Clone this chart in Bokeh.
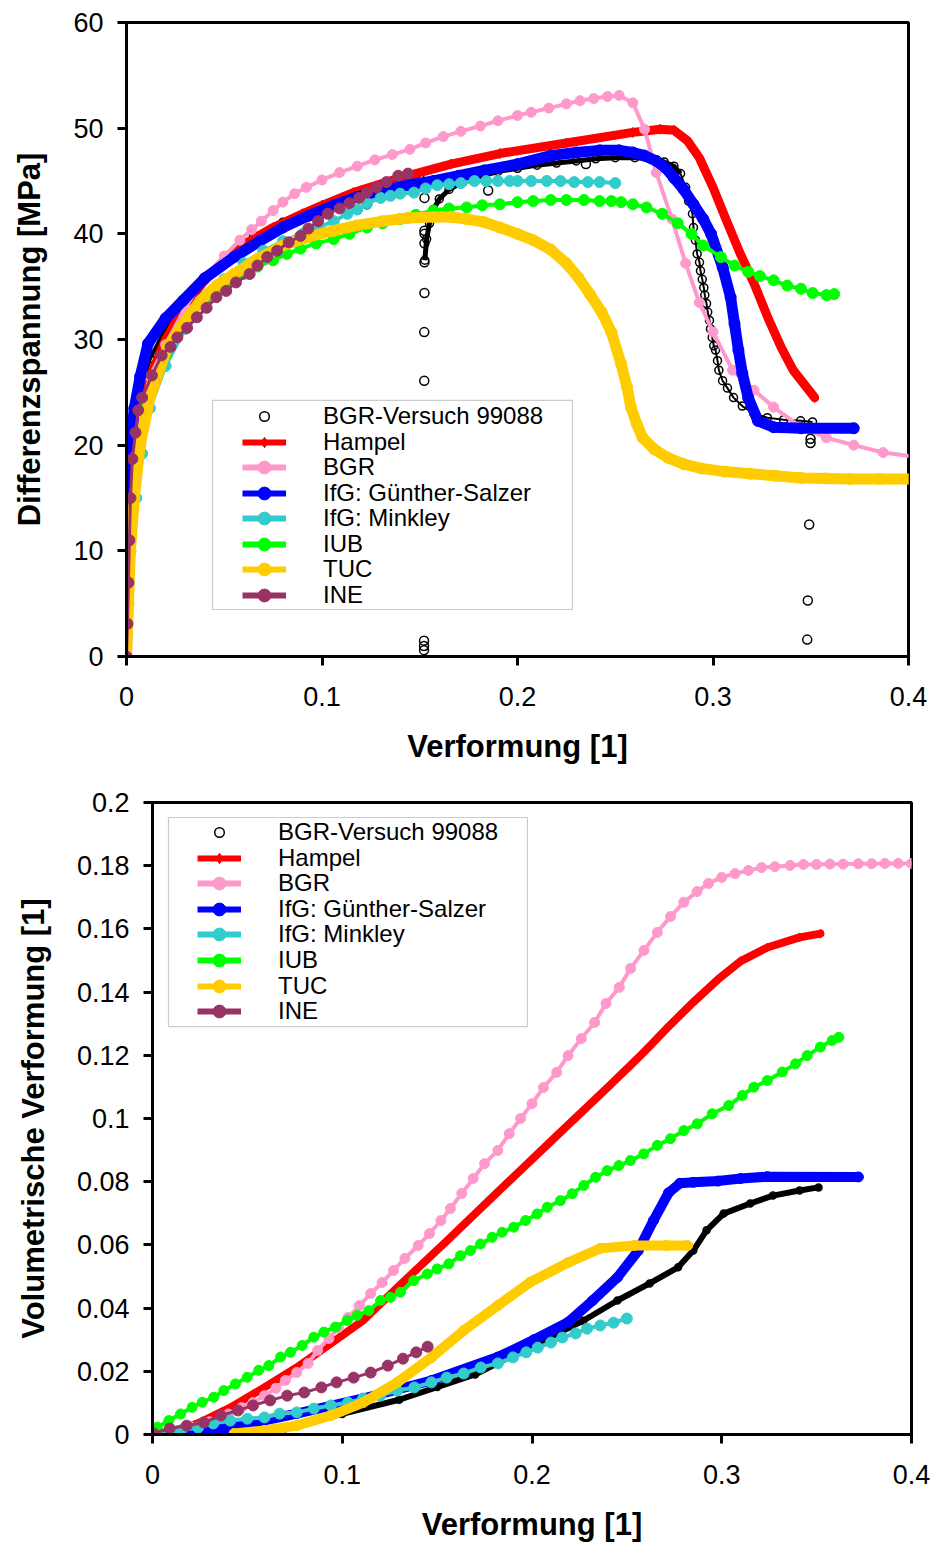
from bokeh.plotting import figure
from bokeh.models import Range1d, FixedTicker, Legend, LegendItem, BoxAnnotation
from bokeh.embed import file_html
from bokeh.resources import INLINE

FONT = "Liberation Sans"

# ---------------- Differenzspannung [MPa] over Verformung [1] ----------------
x_ticks = [0, 0.1, 0.2, 0.3, 0.4]
x_tick_labels = ["0", "0.1", "0.2", "0.3", "0.4"]
s_ticks = [0, 10, 20, 30, 40, 50, 60]
s_tick_labels = ["0", "10", "20", "30", "40", "50", "60"]
v_ticks = [0, 0.02, 0.04, 0.06, 0.08, 0.1, 0.12, 0.14, 0.16, 0.18, 0.2]
v_tick_labels = ["0", "0.02", "0.04", "0.06", "0.08", "0.1", "0.12", "0.14", "0.16", "0.18", "0.2"]

labels = ["BGR-Versuch 99088", "Hampel", "BGR", "IfG: Günther-Salzer",
          "IfG: Minkley", "IUB", "TUC", "INE"]

# BGR-Versuch 99088 (experiment): loading branch, reloading branch, single readings
exp_load_x = [0, 0.0005, 0.001, 0.002, 0.004, 0.007, 0.012, 0.02, 0.03, 0.04, 0.05,
              0.065, 0.08, 0.096, 0.11, 0.125, 0.14, 0.15]
exp_load_y = [0, 8, 13, 17.5, 21.5, 25, 28.2, 31, 33.6, 35.6, 37.3,
              39.8, 41.1, 42.3, 43.3, 44.2, 45.0, 45.4]
exp_reload_x = [0.1526, 0.1535, 0.155, 0.157, 0.16, 0.165, 0.172, 0.18, 0.19, 0.2, 0.21,
                0.22, 0.23, 0.24, 0.25, 0.26, 0.268, 0.275, 0.28, 0.2834, 0.286, 0.2875,
                0.2895, 0.29, 0.291, 0.2919, 0.2931, 0.2936, 0.2945, 0.2953, 0.2958,
                0.2967, 0.2973, 0.2982, 0.2987, 0.2996, 0.3004, 0.3013, 0.3023, 0.303,
                0.3049, 0.3074, 0.3105, 0.315, 0.3209, 0.3278, 0.3361, 0.3448, 0.3509]
exp_reload_y = [37.5, 39.5, 41.0, 42.3, 43.3, 44.2, 44.9, 45.4, 45.9, 46.2, 46.5,
                46.7, 46.9, 47.1, 47.2, 47.2, 47.1, 46.8, 46.4, 45.7, 44.4, 43.1,
                41.9, 40.6, 39.4, 38.1, 37.3, 36.5, 35.7, 34.9, 34.2,
                33.4, 32.6, 31.8, 31.0, 30.2, 29.4, 29.0, 28.0, 27.1,
                26.1, 25.4, 24.5, 23.7, 23.0, 22.6, 22.4, 22.3, 22.2]
exp_pts_x = [0.123, 0.185, 0.235, 0.1524, 0.1524, 0.1525, 0.1524, 0.1524, 0.1524, 0.1523,
             0.1523, 0.1522, 0.1522, 0.1522, 0.3499, 0.3499, 0.3492, 0.3485, 0.3482]
exp_pts_y = [42.8, 44.1, 46.6, 43.4, 40.3, 40.0, 39.1, 37.3, 34.4, 30.7,
             26.1, 1.5, 1.0, 0.6, 20.6, 20.2, 12.5, 5.3, 1.6]

hampel_x = [0, 0.001, 0.003, 0.006, 0.01, 0.02, 0.03, 0.04, 0.05, 0.06, 0.075, 0.09, 0.1,
            0.116, 0.14, 0.166, 0.191, 0.225, 0.259, 0.273, 0.28, 0.287, 0.293, 0.3, 0.307,
            0.314, 0.321, 0.328, 0.335, 0.341, 0.352]
hampel_y = [0, 10, 17, 22, 25.5, 30, 33.2, 35.6, 37.5, 39.0, 40.6, 41.9, 42.7,
            43.9, 45.3, 46.6, 47.6, 48.6, 49.6, 49.9, 49.8, 48.8, 47.2, 44.4, 41.2,
            38.1, 35.3, 32.1, 29.2, 27.1, 24.5]

bgr_x = [0, 0.001, 0.002, 0.004, 0.007, 0.012, 0.02, 0.03, 0.04, 0.05, 0.058, 0.064, 0.069,
         0.075, 0.08, 0.086, 0.092, 0.1, 0.109, 0.118, 0.127, 0.136, 0.145, 0.153, 0.162,
         0.171, 0.181, 0.19, 0.2, 0.207, 0.216, 0.225, 0.232, 0.239, 0.246, 0.252, 0.259,
         0.265, 0.271, 0.279, 0.286, 0.293, 0.3, 0.31, 0.321, 0.331, 0.345, 0.358, 0.372,
         0.387, 0.403]
bgr_y = [0, 8, 14, 19, 23, 26.5, 29.5, 33, 35.8, 37.9, 39.4, 40.4, 41.2,
         42.2, 43.0, 43.8, 44.4, 45.1, 45.8, 46.4, 47.0, 47.5, 48.0, 48.6, 49.2,
         49.7, 50.2, 50.7, 51.2, 51.5, 51.9, 52.3, 52.6, 52.8, 53.0, 53.1, 52.4,
         49.9, 45.8, 41.4, 37.2, 33.5, 30.7, 27.1, 25.2, 23.6, 21.7, 20.7, 20.0,
         19.3, 18.9]

gs_x = [0, 0.0005, 0.001, 0.002, 0.004, 0.007, 0.011, 0.02, 0.029, 0.04, 0.055, 0.068, 0.08,
        0.093, 0.106, 0.118, 0.131, 0.144, 0.157, 0.17, 0.183, 0.2, 0.217, 0.23, 0.242,
        0.252, 0.259, 0.265, 0.271, 0.276, 0.28, 0.285, 0.29, 0.295, 0.299, 0.305, 0.309,
        0.311, 0.313, 0.315, 0.318, 0.323, 0.331, 0.345, 0.372]
gs_y = [0, 10, 15, 20, 23.5, 26.5, 29.6, 32.0, 33.7, 35.8, 37.8, 39.3, 40.6,
        41.7, 42.7, 43.5, 44.1, 44.6, 45.0, 45.5, 46.0, 46.6, 47.4, 47.7, 47.9,
        47.9, 47.7, 47.4, 46.9, 46.2, 45.3, 44.2, 42.8, 41.4, 40.0, 36.8, 34.0,
        31.5, 29.0, 26.8, 24.5, 22.3, 21.7, 21.6, 21.6]

mk_x = [0, 0.002, 0.005, 0.008, 0.012, 0.02, 0.03, 0.04, 0.05, 0.06, 0.07, 0.08, 0.09,
        0.098, 0.106, 0.113, 0.118, 0.123, 0.13, 0.135, 0.14, 0.147, 0.153, 0.159, 0.165,
        0.171, 0.178, 0.184, 0.19, 0.196, 0.2, 0.207, 0.215, 0.222, 0.229, 0.236, 0.242, 0.25]
mk_y = [0, 10, 15, 19.2, 23.5, 27.5, 31, 33.7, 35.7, 37.2, 38.4, 39.3, 40.0,
        40.6, 41.2, 41.9, 42.3, 42.9, 43.4, 43.6, 43.8, 43.9, 44.3, 44.6, 44.7,
        44.8, 45.0, 45.0, 45.0, 45.0, 45.0, 45.0, 45.0, 45.0, 44.9, 44.9, 44.9, 44.8]

iub_x = [0, 0.002, 0.005, 0.01, 0.02, 0.03, 0.04, 0.05, 0.06, 0.067, 0.075, 0.082, 0.089,
         0.097, 0.106, 0.114, 0.123, 0.131, 0.14, 0.148, 0.157, 0.165, 0.174, 0.182, 0.191,
         0.2, 0.208, 0.217, 0.225, 0.234, 0.242, 0.248, 0.253, 0.259, 0.266, 0.274, 0.282,
         0.289, 0.295, 0.304, 0.311, 0.318, 0.324, 0.331, 0.338, 0.345, 0.351, 0.358, 0.362]
iub_y = [0, 12, 19, 24, 28.5, 31.5, 33.5, 35, 36.2, 36.9, 37.5, 38.1, 38.6,
         39.1, 39.5, 40.0, 40.6, 41.0, 41.4, 41.8, 42.2, 42.4, 42.5, 42.7, 42.8,
         43.0, 43.1, 43.2, 43.2, 43.2, 43.1, 43.1, 43.0, 42.8, 42.5, 41.9, 41.0,
         40.0, 38.9, 37.8, 37.0, 36.4, 36.0, 35.6, 35.1, 34.8, 34.4, 34.2, 34.3]

tuc_x = [0, 0.001, 0.002, 0.004, 0.007, 0.012, 0.021, 0.03, 0.038, 0.046, 0.055, 0.067, 0.08,
         0.093, 0.106, 0.118, 0.131, 0.144, 0.157, 0.166, 0.174, 0.183, 0.191, 0.2, 0.208,
         0.217, 0.225, 0.231, 0.237, 0.243, 0.248, 0.253, 0.256, 0.258, 0.261, 0.264, 0.27,
         0.277, 0.285, 0.294, 0.306, 0.319, 0.332, 0.345, 0.358, 0.37, 0.385, 0.401]
tuc_y = [0, 5, 10, 15, 20, 24.5, 29.3, 31.8, 33.7, 35.1, 36.2, 37.6, 38.9,
         39.7, 40.3, 40.8, 41.2, 41.5, 41.6, 41.6, 41.4, 41.1, 40.6, 40.0, 39.4,
         38.5, 37.2, 35.9, 34.3, 32.6, 30.7, 27.7, 25.5, 23.6, 22.0, 20.7, 19.6,
         18.8, 18.2, 17.8, 17.5, 17.3, 17.1, 16.9, 16.85, 16.8, 16.8, 16.8]

ine_x = [0, 0.0005, 0.001, 0.0015, 0.002, 0.003, 0.0046, 0.006, 0.008, 0.013, 0.018, 0.0225,
         0.026, 0.031, 0.036, 0.041, 0.046, 0.051, 0.056, 0.063, 0.067, 0.072, 0.077, 0.083,
         0.089, 0.093, 0.098, 0.103, 0.109, 0.114, 0.119, 0.123, 0.128, 0.133, 0.139, 0.144]
ine_y = [0, 3.1, 7.0, 11.0, 15.0, 18.7, 21.2, 23.3, 24.5, 26.6, 28.5, 29.3,
         30.2, 31.1, 32.1, 33.0, 34.0, 34.6, 35.4, 36.2, 37.0, 37.8, 38.4, 39.2,
         39.8, 40.5, 41.2, 41.9, 42.4, 42.9, 43.4, 43.9, 44.4, 44.9, 45.5, 45.7]

# ---------------- Volumetrische Verformung [1] over Verformung [1] ----------------
exp_v_x = [0.045, 0.07, 0.1, 0.13, 0.15, 0.17, 0.2, 0.227, 0.245, 0.262, 0.277, 0.285,
           0.292, 0.301, 0.315, 0.327, 0.341, 0.351]
exp_v_y = [0, 0.002, 0.0065, 0.011, 0.015, 0.019, 0.028, 0.036, 0.0424, 0.0478, 0.0529,
           0.0582, 0.0646, 0.0699, 0.0731, 0.0756, 0.0772, 0.0782]

hampel_v_x = [0, 0.006, 0.024, 0.041, 0.059, 0.076, 0.094, 0.111, 0.129, 0.155, 0.182, 0.21,
              0.241, 0.257, 0.271, 0.285, 0.298, 0.31, 0.324, 0.341, 0.352]
hampel_v_y = [0, 0.0003, 0.0035, 0.0085, 0.0149, 0.0212, 0.0288, 0.0361, 0.0465, 0.0612,
              0.0768, 0.0928, 0.1105, 0.1198, 0.1285, 0.1368, 0.1440, 0.1498, 0.1541, 0.1573,
              0.1585]

bgr_v_x = [0, 0.01, 0.02, 0.03, 0.04, 0.047, 0.053, 0.059, 0.065, 0.07, 0.076, 0.082, 0.087,
           0.093, 0.098, 0.103, 0.109, 0.115, 0.121, 0.127, 0.133, 0.14, 0.146, 0.152, 0.157,
           0.163, 0.169, 0.175, 0.182, 0.188, 0.194, 0.2, 0.206, 0.213, 0.219, 0.226, 0.233,
           0.239, 0.246, 0.252, 0.259, 0.266, 0.273, 0.28, 0.287, 0.293, 0.3, 0.307, 0.314,
           0.321, 0.328, 0.336, 0.343, 0.35, 0.357, 0.364, 0.372, 0.379, 0.386, 0.393, 0.4]
bgr_v_y = [0, 0.001, 0.0025, 0.004, 0.0065, 0.0085, 0.0101, 0.0123, 0.0146, 0.0171, 0.0196,
           0.0225, 0.0266, 0.0304, 0.0339, 0.037, 0.0408, 0.0446, 0.0481, 0.0519, 0.0557,
           0.0598, 0.0636, 0.0677, 0.0715, 0.0763, 0.081, 0.0857, 0.0899, 0.0952, 0.1,
           0.1047, 0.1098, 0.1146, 0.1199, 0.1253, 0.1304, 0.1364, 0.1415, 0.1475, 0.1532,
           0.1589, 0.1639, 0.1684, 0.1718, 0.1744, 0.1763, 0.1775, 0.1785, 0.1794, 0.1797,
           0.1801, 0.1804, 0.1804, 0.1805, 0.1805, 0.1806, 0.1806, 0.1807, 0.1807, 0.1807]

gs_v_x = [0.015, 0.041, 0.076, 0.111, 0.147, 0.182, 0.201, 0.219, 0.232, 0.245, 0.256,
          0.264, 0.272, 0.278, 0.285, 0.298, 0.31, 0.324, 0.372]
gs_v_y = [0, 0.0022, 0.0066, 0.0114, 0.0171, 0.0245, 0.0300, 0.0355, 0.0424, 0.0497,
          0.0582, 0.0677, 0.0765, 0.0795, 0.0798, 0.0802, 0.081, 0.0816, 0.0815]

mk_v_x = [0.004, 0.015, 0.024, 0.032, 0.041, 0.05, 0.059, 0.067, 0.076, 0.085, 0.094, 0.103,
          0.111, 0.12, 0.129, 0.138, 0.147, 0.155, 0.164, 0.173, 0.182, 0.19, 0.197, 0.203,
          0.21, 0.216, 0.223, 0.229, 0.236, 0.243, 0.25]
mk_v_y = [0.0003, 0.0013, 0.0022, 0.0035, 0.0044, 0.005, 0.0054, 0.0066, 0.007, 0.0082,
          0.0092, 0.0101, 0.0114, 0.0123, 0.0139, 0.0149, 0.0165, 0.018, 0.0193, 0.0212,
          0.0225, 0.0244, 0.026, 0.0275, 0.0291, 0.0307, 0.032, 0.0335, 0.0345, 0.0354,
          0.0367]

iub_v_x = [0, 0.0025, 0.0086, 0.0148, 0.0209, 0.0262, 0.0323, 0.0376, 0.0437, 0.0499, 0.056,
           0.0613, 0.0675, 0.0727, 0.0789, 0.085, 0.0903, 0.0964, 0.1026, 0.1079, 0.114,
           0.1202, 0.1254, 0.1307, 0.1377, 0.1448, 0.15, 0.1562, 0.1623, 0.1676, 0.1729,
           0.179, 0.1843, 0.1904, 0.1966, 0.2027, 0.208, 0.215, 0.2212, 0.2273, 0.2335,
           0.2396, 0.2458, 0.2519, 0.2589, 0.266, 0.273, 0.28, 0.2871, 0.295, 0.3037, 0.3108,
           0.3169, 0.324, 0.3319, 0.3389, 0.345, 0.352, 0.3582, 0.3617]
iub_v_y = [0, 0.0023, 0.0044, 0.0065, 0.0086, 0.0102, 0.0118, 0.0139, 0.016, 0.0181, 0.0203,
           0.0218, 0.0245, 0.026, 0.0282, 0.0308, 0.0324, 0.034, 0.0361, 0.0377, 0.0392,
           0.0424, 0.0434, 0.045, 0.0487, 0.0508, 0.0524, 0.054, 0.0566, 0.0582, 0.0603,
           0.0624, 0.064, 0.0656, 0.0677, 0.0698, 0.0719, 0.074, 0.0762, 0.0788, 0.0814,
           0.0835, 0.0851, 0.0867, 0.0888, 0.0915, 0.0936, 0.0962, 0.0983, 0.1015, 0.1041,
           0.1073, 0.1099, 0.112, 0.1147, 0.1173, 0.1199, 0.1226, 0.1247, 0.1257]

tuc_v_x = [0.043, 0.059, 0.076, 0.094, 0.111, 0.129, 0.147, 0.164, 0.182, 0.199, 0.219, 0.236,
           0.254, 0.271, 0.282]
tuc_v_y = [0.0003, 0.0013, 0.0028, 0.006, 0.0101, 0.0165, 0.0244, 0.0329, 0.0408, 0.0482,
           0.0544, 0.0589, 0.0598, 0.0598, 0.0598]

ine_v_x = [0.0005, 0.009, 0.018, 0.027, 0.036, 0.045, 0.053, 0.062, 0.071, 0.08, 0.089, 0.097,
           0.106, 0.115, 0.124, 0.132, 0.139, 0.145]
ine_v_y = [0.0003, 0.0019, 0.0028, 0.0038, 0.006, 0.0076, 0.0092, 0.0108, 0.0123, 0.0133,
           0.0149, 0.0165, 0.018, 0.0196, 0.0218, 0.024, 0.026, 0.0278]

colors = {"Hampel": "#ff0000", "BGR": "#ff99cc", "IfG: Günther-Salzer": "#0000ff",
          "IfG: Minkley": "#33cccc", "IUB": "#00ff00", "TUC": "#ffcc00", "INE": "#993366"}

# legend glyph box heights (marker size in the key is 0.4 x this)
key_heights = [24, 26, 32, 32, 32, 32, 32, 32]


def style(p, yt, yl, xtitle, ytitle):
    p.xaxis.ticker = FixedTicker(ticks=x_ticks, minor_ticks=[])
    p.xaxis.major_label_overrides = dict(zip(x_ticks, x_tick_labels))
    p.yaxis.ticker = FixedTicker(ticks=yt, minor_ticks=[])
    p.yaxis.major_label_overrides = dict(zip(yt, yl))
    p.xaxis.axis_label = xtitle
    p.yaxis.axis_label = ytitle
    for ax in (p.xaxis[0], p.yaxis[0]):
        ax.axis_line_width = 3
        ax.axis_line_color = "black"
        ax.major_tick_line_width = 3
        ax.major_tick_line_color = "black"
        ax.major_tick_out = 9
        ax.major_tick_in = 0
        ax.minor_tick_out = 0
        ax.minor_tick_in = 0
        ax.major_label_text_font = FONT
        ax.major_label_text_font_size = "27px"
        ax.major_label_text_color = "black"
        ax.axis_label_text_font = FONT
        ax.axis_label_text_font_size = "31px"
        ax.axis_label_text_font_style = "bold"
        ax.axis_label_text_color = "black"
    p.xaxis.major_label_standoff = 21
    p.yaxis.major_label_standoff = 14
    p.xaxis.axis_label_standoff = 20
    p.yaxis.axis_label_standoff = 23
    p.xgrid.visible = False
    p.ygrid.visible = False
    p.outline_line_color = "black"
    p.outline_line_width = 3
    p.background_fill_color = "white"
    p.border_fill_color = "white"


def series(p, x, y, color, lw, size, marker="circle"):
    p.line(x, y, line_color=color, line_width=lw, line_join="round", line_cap="round")
    m = p.scatter(x, y, marker=marker, size=size, fill_color=color, line_color=color)
    # one-point line: invisible in the plot, gives the key its stroke
    leg = p.line(x[:1], y[:1], line_color=color, line_width=6)
    return [leg, m]


def add_legend(p, items, left, first_row, pitch, frame_bottom, box):
    # one single-row legend per entry, so the row pitch is free
    for i, (item, gh) in enumerate(zip(items, key_heights)):
        h = max(gh, 28)
        centre = first_row + i * pitch
        legend = Legend(items=[item], location=(left, frame_bottom - centre - h / 2),
                        padding=0, spacing=0, margin=0,
                        glyph_width=44, glyph_height=gh, label_height=gh,
                        label_standoff=37, label_text_font=FONT,
                        label_text_font_size="24px", label_text_color="black",
                        border_line_alpha=0, background_fill_alpha=0)
        p.add_layout(legend)
    l, r, b, t = box
    p.add_layout(BoxAnnotation(left=l, right=r, bottom=b, top=t,
                               fill_color=None, fill_alpha=0,
                               line_color="#555555", line_width=1.2))


# ---------- upper panel ----------
p1 = figure(width=933, height=780, output_backend="svg", toolbar_location=None,
            x_range=Range1d(0, 0.4), y_range=Range1d(0, 60),
            min_border_left=126, min_border_right=25, min_border_top=22,
            min_border_bottom=124)
style(p1, s_ticks, s_tick_labels, "Verformung [1]", "Differenzspannung [MPa]")

# densely sampled stretch of the reloading branch shows as a solid band
n_band = sum(1 for v in exp_reload_x if v <= 0.2834)
p1.line(exp_load_x, exp_load_y, line_color="black", line_width=4)
p1.line(exp_reload_x[:n_band], exp_reload_y[:n_band], line_color="black", line_width=5,
        line_join="round")
p1.line(exp_reload_x[n_band - 1:], exp_reload_y[n_band - 1:], line_color="black", line_width=2)
p1.scatter(exp_load_x, exp_load_y, size=8, fill_color=None, line_color="black", line_width=1.5)
p1.scatter(exp_reload_x, exp_reload_y, size=8, fill_color=None, line_color="black", line_width=1.5)
e1 = p1.scatter(exp_pts_x, exp_pts_y, size=9, fill_color=None, line_color="black", line_width=1.5)

items1 = [LegendItem(label=labels[0], renderers=[e1])]
items1.append(LegendItem(label=labels[1], renderers=series(p1, hampel_x, hampel_y, colors["Hampel"], 9, 10, "diamond")))
items1.append(LegendItem(label=labels[2], renderers=series(p1, bgr_x, bgr_y, colors["BGR"], 4, 10)))
items1.append(LegendItem(label=labels[3], renderers=series(p1, gs_x, gs_y, colors["IfG: Günther-Salzer"], 11, 11)))
items1.append(LegendItem(label=labels[4], renderers=series(p1, mk_x, mk_y, colors["IfG: Minkley"], 4, 11)))
items1.append(LegendItem(label=labels[5], renderers=series(p1, iub_x, iub_y, colors["IUB"], 4, 11)))
items1.append(LegendItem(label=labels[6], renderers=series(p1, tuc_x, tuc_y, colors["TUC"], 11, 11)))
items1.append(LegendItem(label=labels[7], renderers=series(p1, ine_x, ine_y, colors["INE"], 3, 11)))
add_legend(p1, items1, 116, 416, 25.55, 656, (0.044, 0.2281, 4.45, 24.23))

# ---------- lower panel ----------
p2 = figure(width=933, height=764, output_backend="svg", toolbar_location=None,
            x_range=Range1d(0, 0.4), y_range=Range1d(0, 0.2),
            min_border_left=152, min_border_right=22, min_border_top=22,
            min_border_bottom=110)
style(p2, v_ticks, v_tick_labels, "Verformung [1]", "Volumetrische Verformung [1]")

p2.line(exp_v_x, exp_v_y, line_color="black", line_width=6, line_join="round", line_cap="round")
e2 = p2.scatter(exp_v_x, exp_v_y, size=7, fill_color=None, line_color="black", line_width=1.5)

items2 = [LegendItem(label=labels[0], renderers=[e2])]
items2.append(LegendItem(label=labels[1], renderers=series(p2, hampel_v_x, hampel_v_y, colors["Hampel"], 8, 9, "diamond")))
items2.append(LegendItem(label=labels[2], renderers=series(p2, bgr_v_x, bgr_v_y, colors["BGR"], 4, 10)))
items2.append(LegendItem(label=labels[3], renderers=series(p2, gs_v_x, gs_v_y, colors["IfG: Günther-Salzer"], 10, 10)))
items2.append(LegendItem(label=labels[4], renderers=series(p2, mk_v_x, mk_v_y, colors["IfG: Minkley"], 4, 11)))
items2.append(LegendItem(label=labels[5], renderers=series(p2, iub_v_x, iub_v_y, colors["IUB"], 4, 10)))
items2.append(LegendItem(label=labels[6], renderers=series(p2, tuc_v_x, tuc_v_y, colors["TUC"], 10, 10)))
items2.append(LegendItem(label=labels[7], renderers=series(p2, ine_v_x, ine_v_y, colors["INE"], 3, 11)))
add_legend(p2, items2, 45, 832, 25.6, 1434, (0.00843, 0.1976, 0.1291, 0.19525))

# two independent roots, so each panel keeps its own frame geometry
open("out.html", "w").write(file_html([p1, p2], INLINE))
